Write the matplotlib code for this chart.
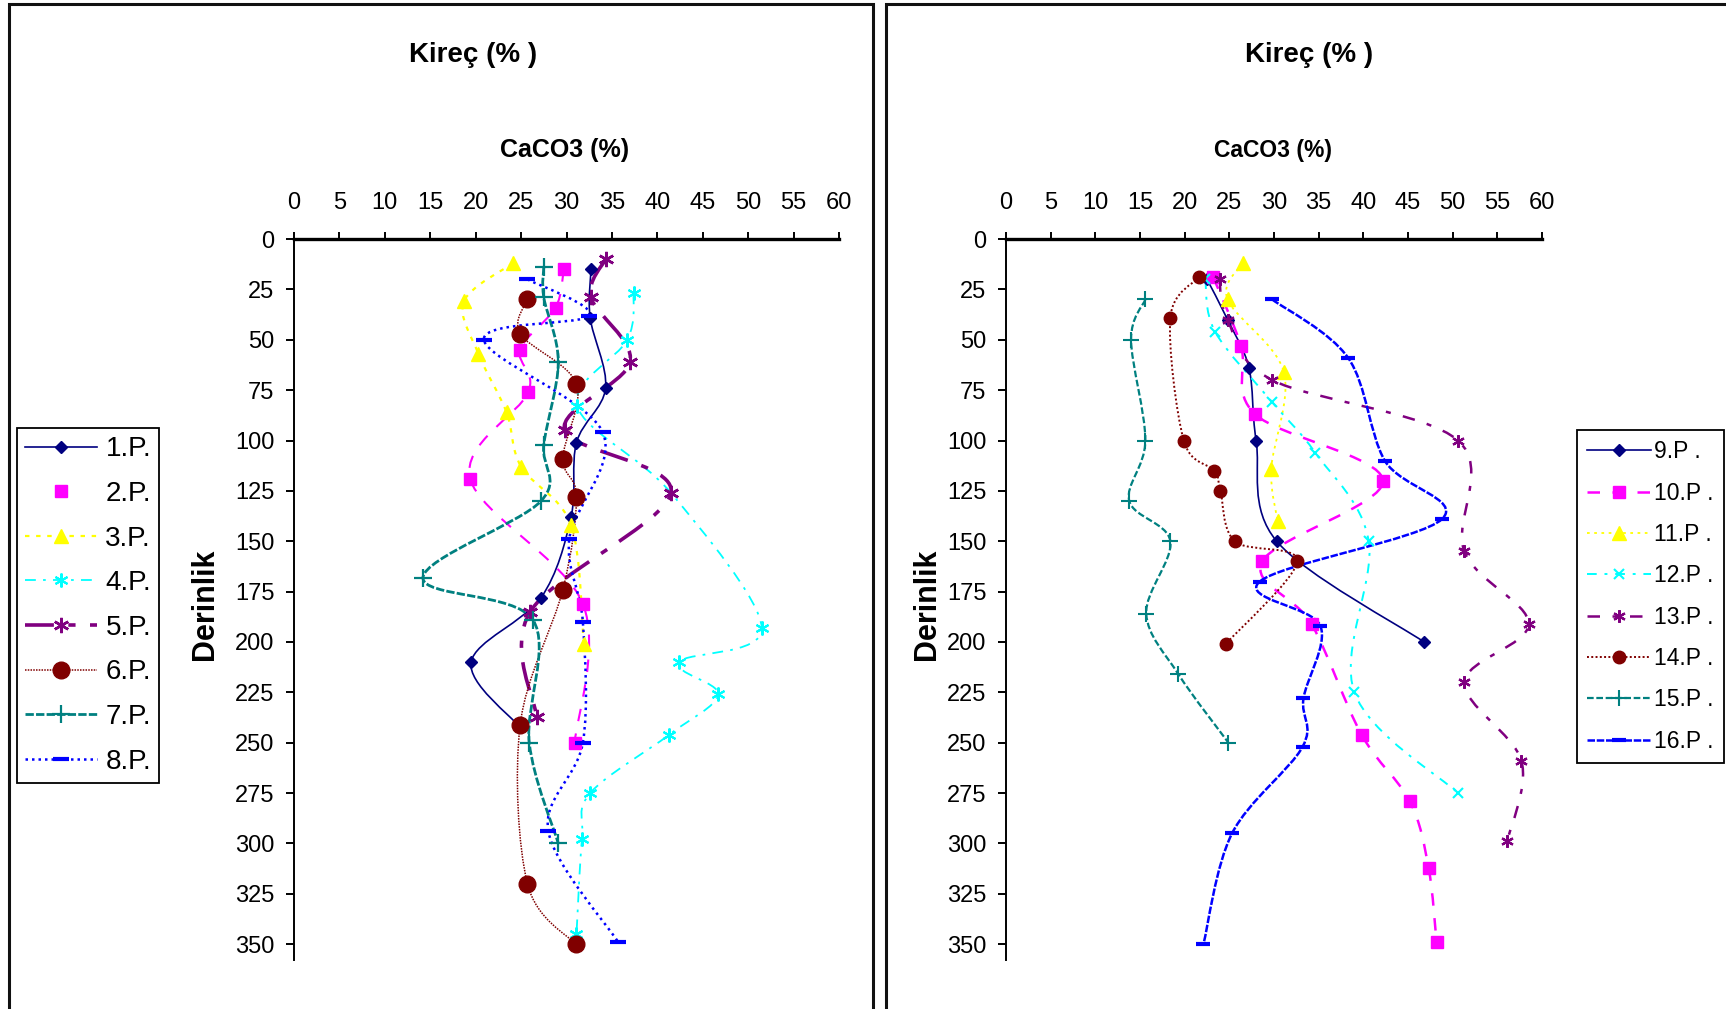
import numpy as np
import matplotlib.pyplot as plt
from matplotlib import font_manager
from matplotlib.path import Path
from matplotlib.patches import PathPatch, Rectangle
from matplotlib.lines import Line2D

# --- profile data: CaCO3 (%) against depth (cm) ---
# left chart, profiles 1-8
p1_x = [32.7, 32.6, 34.3, 31.1, 30.5, 27.2, 19.5, 24.8]
p1_y = [15, 39, 74, 101, 138, 178, 210, 242]
p2_x = [29.7, 28.8, 24.9, 25.8, 19.4, 31.8, 30.9]
p2_y = [15, 34, 55, 76, 119, 181, 250]
p3_x = [24.1, 18.7, 20.3, 23.4, 25.0, 30.5, 31.9]
p3_y = [12, 31, 57, 86, 113, 142, 201]
p4_x = [37.4, 36.7, 31.2, 41.5, 51.5, 42.4, 46.7, 41.3, 32.6, 31.7, 31.1]
p4_y = [27, 50, 83, 126, 193, 210, 226, 246, 275, 298, 345]
p5_x = [34.3, 32.7, 37.0, 29.8, 41.5, 26.0, 26.7]
p5_y = [10, 29, 61, 95, 126, 185, 237]
p6_x = [25.7, 24.9, 31.1, 29.6, 31.1, 29.6, 24.9, 25.7, 31.0]
p6_y = [30, 47, 72, 109, 128, 174, 241, 320, 350]
p7_x = [27.5, 27.5, 29.1, 27.5, 27.2, 14.2, 26.3, 25.9, 29.1]
p7_y = [14, 29, 61, 102, 130, 168, 189, 250, 300]
p8_x = [25.7, 32.5, 20.9, 34.0, 30.3, 31.8, 31.8, 28.0, 35.7]
p8_y = [20, 38, 50, 96, 149, 190, 250, 294, 349]

# right chart, profiles 9-16
p9_x = [22.5, 24.8, 27.2, 28.0, 30.3, 46.8]
p9_y = [20, 40, 64, 100, 150, 200]
p10_x = [23.2, 26.3, 27.9, 42.2, 28.7, 34.2, 39.8, 45.2, 47.3, 48.2]
p10_y = [19, 53, 87, 120, 160, 191, 246, 279, 312, 349]
p11_x = [26.5, 24.8, 31.1, 29.7, 30.4]
p11_y = [12, 30, 66, 114, 140]
p12_x = [22.3, 23.4, 29.8, 34.6, 40.6, 39.0, 50.6]
p12_y = [20, 46, 81, 106, 150, 225, 275]
p13_x = [23.9, 24.8, 29.8, 50.6, 51.3, 58.5, 51.3, 57.7, 56.1]
p13_y = [20, 40, 70, 100, 155, 191, 220, 259, 299]
p14_x = [21.6, 18.4, 19.9, 23.3, 24.0, 25.6, 32.6, 24.6]
p14_y = [19, 39, 100, 115, 125, 150, 160, 201]
p15_x = [15.6, 14.0, 15.6, 13.8, 18.4, 15.7, 19.3, 24.9]
p15_y = [30, 50, 100, 130, 150, 186, 216, 250]
p16_x = [29.8, 38.3, 42.4, 48.8, 28.4, 35.2, 33.3, 33.2, 25.3, 22.1]
p16_y = [30, 59, 110, 139, 170, 192, 228, 252, 295, 350]

left_labels = ["1.P.", "2.P.", "3.P.", "4.P.", "5.P.", "6.P.", "7.P.", "8.P."]
right_labels = ["9.P .", "10.P .", "11.P .", "12.P .", "13.P .", "14.P .", "15.P .", "16.P ."]
x_ticks = list(range(0, 61, 5))
y_ticks = list(range(0, 351, 25))

left_data = [(p1_x, p1_y), (p2_x, p2_y), (p3_x, p3_y), (p4_x, p4_y),
             (p5_x, p5_y), (p6_x, p6_y), (p7_x, p7_y), (p8_x, p8_y)]
right_data = [(p9_x, p9_y), (p10_x, p10_y), (p11_x, p11_y), (p12_x, p12_y),
              (p13_x, p13_y), (p14_x, p14_y), (p15_x, p15_y), (p16_x, p16_y)]

NAVY, MAG, YEL, CYAN = "#000080", "#FF00FF", "#FFFF00", "#00FFFF"
PURP, MAROON, TEAL, BLUE = "#800080", "#800000", "#008080", "#0000FF"
ASTER = (6, 2, 0)

left_styles = [
    dict(color=NAVY, lw=1.2, ls="-", marker="D", ms=6),
    dict(color=MAG, lw=1.5, ls=(0, (6, 6)), marker="s", ms=8, noline=True),
    dict(color=YEL, lw=1.6, ls=(0, (2, 3)), marker="^", ms=10),
    dict(color=CYAN, lw=1.3, ls=(0, (6, 4, 1.5, 4)), marker=ASTER, ms=10, mew=1.5),
    dict(color=PURP, lw=2.6, ls=(0, (8, 4, 2, 4)), marker=ASTER, ms=11, mew=1.8),
    dict(color=MAROON, lw=1.1, ls=(0, (1, 0.8)), marker="o", ms=12),
    dict(color=TEAL, lw=2.0, ls=(0, (3, 0.8)), marker="+", ms=13, mew=1.6),
    dict(color=BLUE, lw=1.8, ls=(0, (1, 1.6)), marker="_", ms=11, mew=3),
]
right_styles = [
    dict(color=NAVY, lw=1.2, ls="-", marker="D", ms=6),
    dict(color=MAG, lw=1.8, ls=(0, (5, 5)), marker="s", ms=8),
    dict(color=YEL, lw=1.3, ls=(0, (1.5, 2.5)), marker="^", ms=10),
    dict(color=CYAN, lw=1.4, ls=(0, (5, 4, 1.5, 4)), marker="x", ms=7, mew=1.5),
    dict(color=PURP, lw=1.8, ls=(0, (5, 5, 2, 5)), marker=ASTER, ms=9, mew=1.6),
    dict(color=MAROON, lw=1.4, ls=(0, (1, 1.2)), marker="o", ms=9),
    dict(color=TEAL, lw=1.6, ls=(0, (3, 1.2)), marker="+", ms=12, mew=1.5),
    dict(color=BLUE, lw=1.8, ls=(0, (3, 0.7)), marker="_", ms=10, mew=3),
]


def pick_font(name, fallback):
    try:
        font_manager.findfont(font_manager.FontProperties(family=name),
                              fallback_to_default=False)
        return name
    except ValueError:
        return fallback


NARROW = pick_font("Liberation Sans Narrow", "Liberation Sans")
plt.rcParams["font.family"] = [NARROW, "DejaVu Sans"]


def smooth_path(xs, ys):
    # smoothed line through the points (cubic Bezier segments)
    pts = np.column_stack([xs, ys]).astype(float)
    n = len(pts)
    verts, codes = [pts[0]], [Path.MOVETO]
    for i in range(n - 1):
        p0 = pts[i - 1] if i > 0 else pts[i]
        p1, p2 = pts[i], pts[i + 1]
        p3 = pts[i + 2] if i + 2 < n else pts[i + 1]
        verts += [p1 + (p2 - p0) / 6, p2 - (p3 - p1) / 6, p2]
        codes += [Path.CURVE4] * 3
    return Path(verts, codes)


def draw_series(ax, data, styles, labels):
    handles = []
    for (xs, ys), st, lab in zip(data, styles, labels):
        ax.add_patch(PathPatch(smooth_path(xs, ys), facecolor="none",
                               edgecolor=st["color"], lw=st["lw"],
                               linestyle=st["ls"], capstyle="butt"))
        mk = dict(marker=st["marker"], ms=st["ms"], mfc=st["color"],
                  mec=st["color"], mew=st.get("mew", 1.0))
        ax.plot(xs, ys, ls="none", **mk)
        if st.get("noline"):
            handles.append(Line2D([], [], ls="none", label=lab, **mk))
        else:
            handles.append(Line2D([], [], color=st["color"], lw=st["lw"],
                                  ls=st["ls"], label=lab, **mk))
    return handles


def setup_axes(ax):
    ax.set_xlim(0, 60)
    ax.set_ylim(358, 0)
    ax.xaxis.tick_top()
    ax.set_xticks(x_ticks)
    ax.set_yticks(y_ticks)
    for s in ["right", "bottom"]:
        ax.spines[s].set_visible(False)
    ax.spines["top"].set_linewidth(2.4)
    ax.spines["left"].set_linewidth(1.4)
    ax.tick_params(axis="x", direction="out", length=5, width=1.4, pad=13,
                   labelsize=17)
    ax.tick_params(axis="y", direction="out", length=6, width=1.4, pad=8,
                   labelsize=17)
    ax.patch.set_alpha(0)


W, H = 1726, 1009
fig = plt.figure(figsize=(W / 100, H / 100), dpi=100)

def fx(px):
    return px / W

def fy(py):
    return 1 - py / H

# panel frames
for x0, x1 in [(9, 873), (886, 1760)]:
    fig.add_artist(Rectangle((fx(x0), -0.1), fx(x1 - x0), 1.1 - 4 / H,
                             transform=fig.transFigure, fill=False,
                             lw=2.2, ec="#111111"))

top_px, ppc = 239, 2.015
bot_px = top_px + 358 * ppc
axL = fig.add_axes([fx(294), fy(bot_px), fx(839 - 294), (bot_px - top_px) / H])
axR = fig.add_axes([fx(1006), fy(bot_px), fx(1542 - 1006), (bot_px - top_px) / H])

for ax in (axL, axR):
    setup_axes(ax)

hL = draw_series(axL, left_data, left_styles, left_labels)
hR = draw_series(axR, right_data, right_styles, right_labels)

# titles and axis names
for cx_title, cx_sub, sub_size, cx_depth in [(473, 565, 18, 205), (1309, 1273, 16.5, 927)]:
    fig.text(fx(cx_title), fy(55), "Kireç (% )", ha="center", va="center",
             fontsize=20, fontweight="bold")
    fig.text(fx(cx_sub), fy(150), "CaCO3 (%)", ha="center", va="center",
             fontsize=sub_size, fontweight="bold")
    fig.text(fx(cx_depth), fy(604), "Derinlik", ha="center", va="center",
             rotation=90, fontsize=22, fontweight="bold")

legL = fig.legend(handles=hL, loc="upper left", bbox_to_anchor=(fx(16.5), fy(428)),
                  prop={"family": NARROW, "size": 20}, handlelength=2.6,
                  handletextpad=0.3, labelspacing=0.67, borderpad=0.3,
                  borderaxespad=0, fancybox=False, edgecolor="black",
                  framealpha=1)
legL.get_frame().set_linewidth(1.3)

legR = fig.legend(handles=hR, loc="upper left", bbox_to_anchor=(fx(1577), fy(430)),
                  prop={"family": "Liberation Sans", "size": 16.5}, handlelength=2.8,
                  handletextpad=0.1, labelspacing=0.8, borderpad=0.45,
                  borderaxespad=0, fancybox=False, edgecolor="black",
                  framealpha=1)
legR.get_frame().set_linewidth(1.3)

fig.savefig("out.png", dpi=100)
